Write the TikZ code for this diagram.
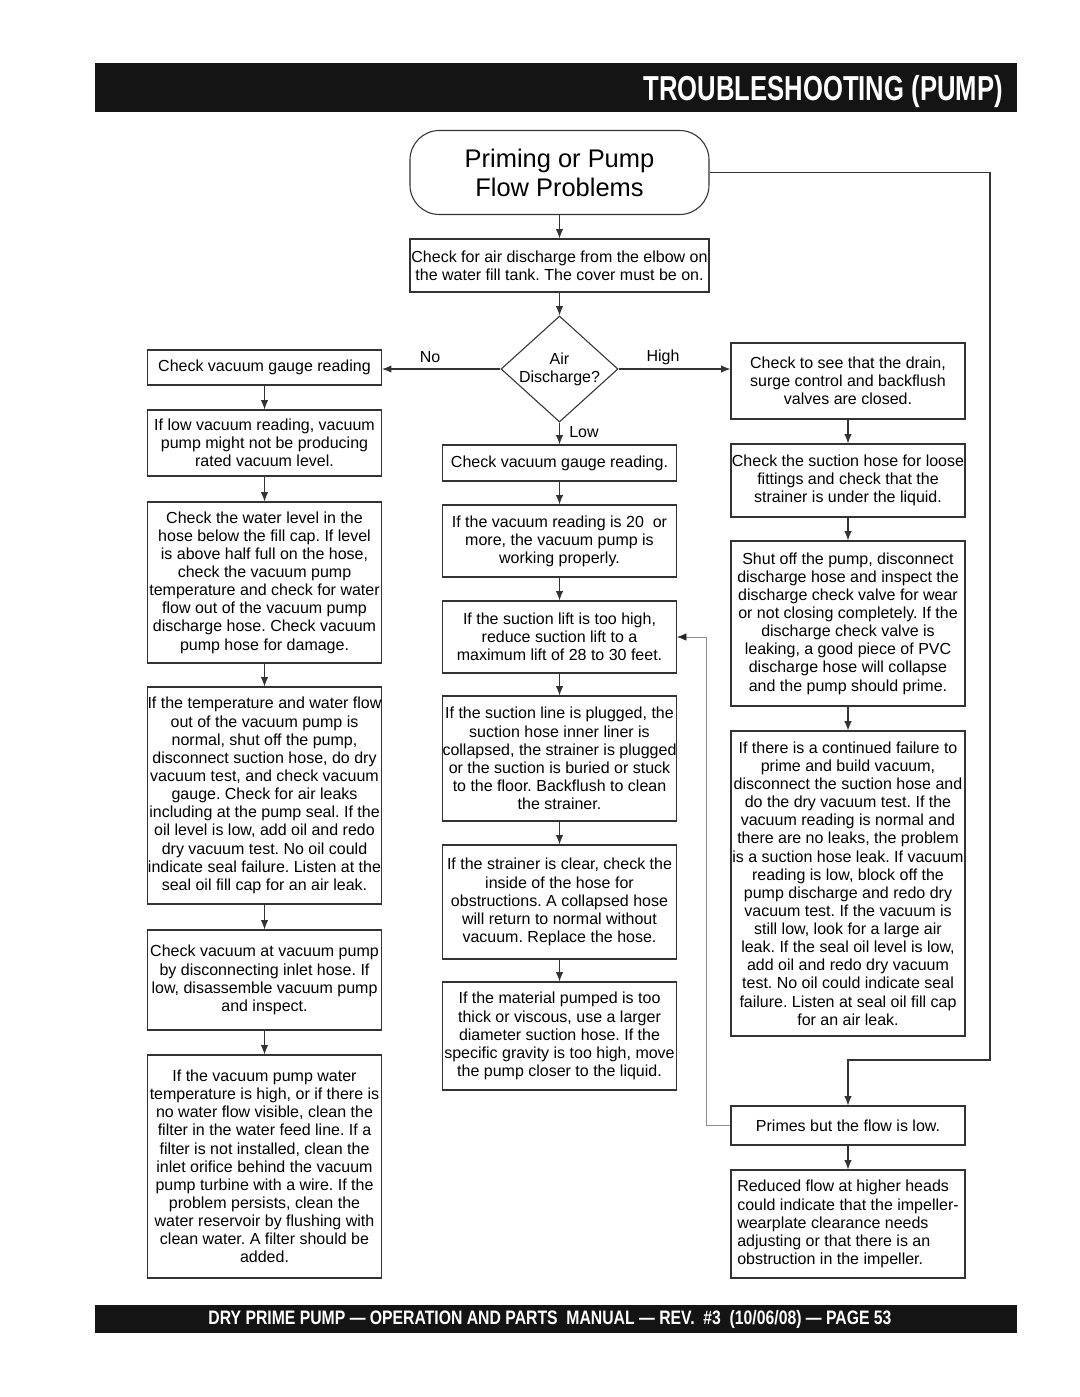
\documentclass[tikz,border=0pt]{standalone}
\usepackage{fontspec}
\setmainfont{Liberation Sans}
\newfontfamily\headfont[FakeStretch=0.74]{Liberation Sans}
\newfontfamily\footfont[FakeStretch=0.81]{Liberation Sans}
\usetikzlibrary{arrows.meta,shapes.geometric}
\frenchspacing

\begin{document}
\begin{tikzpicture}[x=0.75pt,y=-0.75pt,
	box/.style={draw=black!80, line width=0.8pt, align=center, inner xsep=0pt, inner ysep=2pt, minimum width=175.5pt, font=\fontsize{12}{13.6}\selectfont},
	lbl/.style={font=\fontsize{12}{13.6}\selectfont},
	arr/.style={draw=black!80, line width=0.8pt, -{Latex[length=7pt,width=5.5pt]}},
	garr/.style={draw=black!45, line width=0.5pt, -{Latex[length=7pt,width=5.5pt,color=black!85]}}]
	\useasboundingbox (0,0) rectangle (1080,1397);
	% header and footer bars
	\fill[black!92] (95,63) rectangle (1017,112);
	\node[anchor=base east, inner sep=0pt, text=white, font=\headfont\bfseries\fontsize{26}{28}\selectfont] (title) at (1003,100) {TROUBLESHOOTING (PUMP)};
	\fill[black!92] (95,1305) rectangle (1017,1333);
	\node[text=white, font=\footfont\bfseries\fontsize{14.6}{16}\selectfont] (foot) at (550,1319) {DRY PRIME PUMP — OPERATION AND PARTS\ \ MANUAL — REV.\ \ \#3\ \ (10/06/08) — PAGE 53};
	% top of the chart
	\node[draw=black!80, line width=0.8pt, rounded corners=22pt, minimum width=224.25pt, minimum height=63pt, align=center, font=\fontsize{19.1}{21.75}\selectfont] (start) at (559.5,172.5) {Priming or Pump\\Flow Problems};
	\node[box, minimum width=224.25pt, minimum height=39.75pt] (air) at (559.5,265.5) {Check for air discharge from the elbow on\\the water fill tank. The cover must be on.};
	\node[draw=black!80, line width=0.8pt, diamond, inner sep=0pt, minimum width=87.75pt, minimum height=79.5pt, label={[lbl, align=center]center:{Air\\Discharge?}}] (dia) at (559.5,369) {};
	\node[lbl] (no) at (430,357) {No};
	\node[lbl] (high) at (663,357) {High};
	\node[lbl] (low) at (584,432) {Low};
	% left column
	\node[box, minimum height=26.25pt] (l1) at (264.5,367.5) {Check vacuum gauge reading};
	\node[box, minimum height=49.5pt] (l2) at (264.5,443) {If low vacuum reading, vacuum\\pump might not be producing\\rated vacuum level.};
	\node[box, minimum height=120.75pt] (l3) at (264.5,582.5) {Check the water level in the\\hose below the fill cap. If level\\is above half full on the hose,\\check the vacuum pump\\temperature and check for water\\flow out of the vacuum pump\\discharge hose. Check vacuum\\pump hose for damage.};
	\node[box, minimum height=162.75pt] (l4) at (264.5,795.5) {If the temperature and water flow\\out of the vacuum pump is\\normal, shut off the pump,\\disconnect suction hose, do dry\\vacuum test, and check vacuum\\gauge. Check for air leaks\\including at the pump seal. If the\\oil level is low, add oil and redo\\dry vacuum test. No oil could\\indicate seal failure. Listen at the\\seal oil fill cap for an air leak.};
	\node[box, minimum height=75pt] (l5) at (264.5,980) {Check vacuum at vacuum pump\\by disconnecting inlet hose. If\\low, disassemble vacuum pump\\and inspect.};
	\node[box, minimum height=167.25pt] (l6) at (264.5,1166.5) {If the vacuum pump water\\temperature is high, or if there is\\no water flow visible, clean the\\filter in the water feed line. If a\\filter is not installed, clean the\\inlet orifice behind the vacuum\\pump turbine with a wire. If the\\problem persists, clean the\\water reservoir by flushing with\\clean water. A filter should be\\added.};
	% middle column
	\node[box, minimum height=27pt] (m1) at (559.5,463) {Check vacuum gauge reading.};
	\node[box, minimum height=54pt] (m2) at (559.5,541) {If the vacuum reading is 20~~or\\more, the vacuum pump is\\working properly.};
	\node[box, minimum height=54pt] (m3) at (559.5,637) {If the suction lift is too high,\\reduce suction lift to a\\maximum lift of 28 to 30 feet.};
	\node[box, minimum height=93.75pt] (m4) at (559.5,758.5) {If the suction line is plugged, the\\suction hose inner liner is\\collapsed, the strainer is plugged\\or the suction is buried or stuck\\to the floor. Backflush to clean\\the strainer.};
	\node[box, minimum height=85.5pt] (m5) at (559.5,902) {If the strainer is clear, check the\\inside of the hose for\\obstructions. A collapsed hose\\will return to normal without\\vacuum. Replace the hose.};
	\node[box, minimum height=81pt] (m6) at (559.5,1036) {If the material pumped is too\\thick or viscous, use a larger\\diameter suction hose. If the\\specific gravity is too high, move\\the pump closer to the liquid.};
	% right column
	\node[box, minimum height=57pt] (r1) at (848,381) {Check to see that the drain,\\surge control and backflush\\valves are closed.};
	\node[box, minimum height=54.75pt] (r2) at (848,480.5) {Check the suction hose for loose\\fittings and check that the\\strainer is under the liquid.};
	\node[box, minimum height=123.75pt] (r3) at (848,623.5) {Shut off the pump, disconnect\\discharge hose and inspect the\\discharge check valve for wear\\or not closing completely. If the\\discharge check valve is\\leaking, a good piece of PVC\\discharge hose will collapse\\and the pump should prime.};
	\node[box, minimum height=228.75pt] (r4) at (848,883.5) {If there is a continued failure to\\prime and build vacuum,\\disconnect the suction hose and\\do the dry vacuum test. If the\\vacuum reading is normal and\\there are no leaks, the problem\\is a suction hose leak. If vacuum\\reading is low, block off the\\pump discharge and redo dry\\vacuum test. If the vacuum is\\still low, look for a large air\\leak. If the seal oil level is low,\\add oil and redo dry vacuum\\test. No oil could indicate seal\\failure. Listen at seal oil fill cap\\for an air leak.};
	\node[box, minimum height=29.25pt] (r5) at (848,1125.5) {Primes but the flow is low.};
	\node[box, align=left, minimum height=81pt] (r6) at (848,1224) {Reduced flow at higher heads\\could indicate that the impeller-\\wearplate clearance needs\\adjusting or that there is an\\obstruction in the impeller.};
	% connectors
	\draw[arr] (start) -- (air);
	\draw[arr] (air) -- (dia);
	\draw[arr] (dia.west) -- (dia.west -| l1.east);
	\draw[arr] (dia.east) -- (dia.east -| r1.west);
	\draw[arr] (dia.south) -- (m1.north);
	\foreach \a/\b in {l1/l2,l2/l3,l3/l4,l4/l5,l5/l6,m1/m2,m2/m3,m3/m4,m4/m5,m5/m6,r1/r2,r2/r3,r3/r4,r5/r6}
		\draw[arr] (\a) -- (\b);
	\coordinate (bend) at (990,1060);
	\draw[arr] (start.east) -| (bend) -| (r5.north);
	\coordinate (back) at (706,1125.5);
	\draw[garr] (r5.west) -- (back) |- (m3.east);
\end{tikzpicture}
\end{document}
